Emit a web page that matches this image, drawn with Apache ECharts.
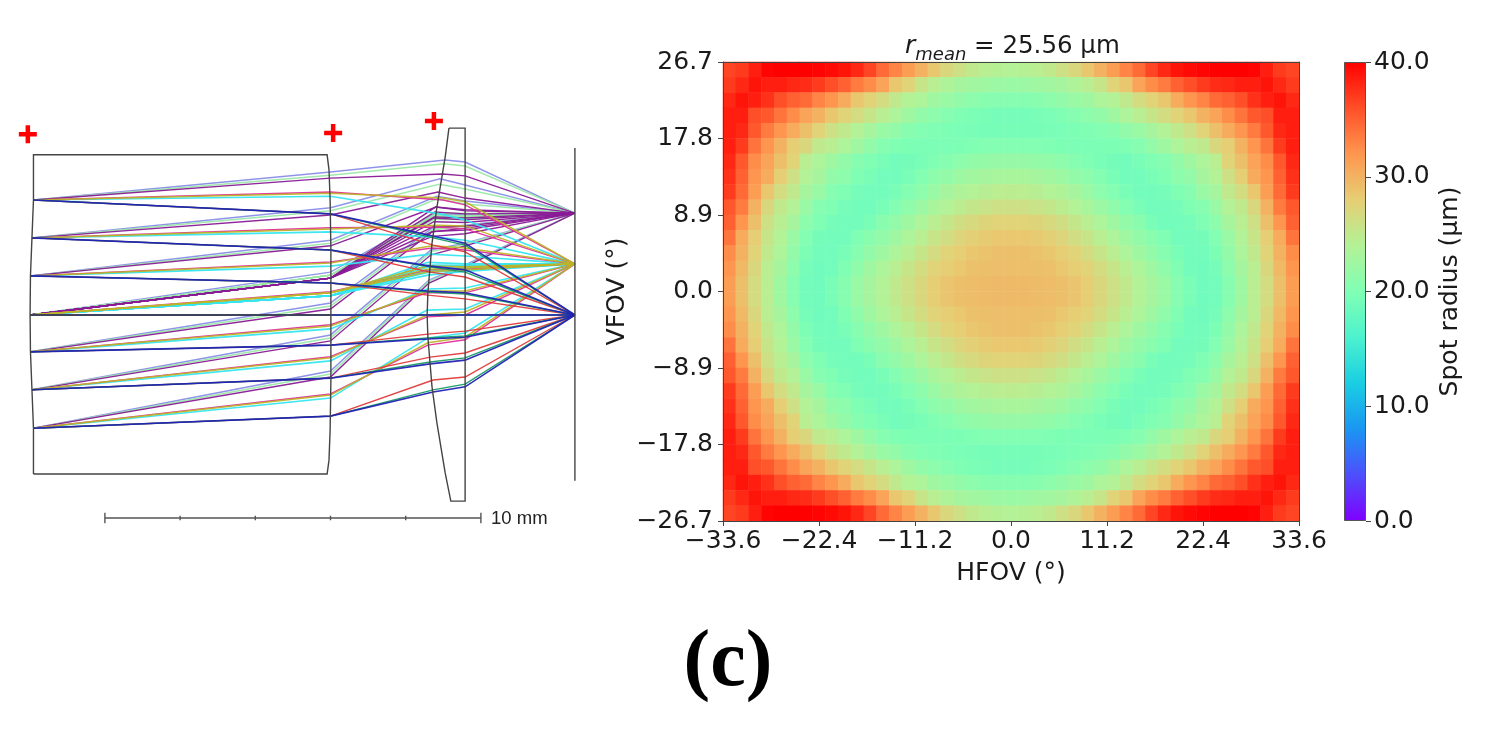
<!DOCTYPE html>
<html>
<head>
<meta charset="utf-8">
<style>html,body{margin:0;padding:0;background:#fff}#c{width:1491px;height:733px}</style>
<script src="https://cdn.jsdelivr.net/npm/echarts@6/dist/echarts.min.js"></script>
</head>
<body>
<div id="c"></div>
<script>
// ---------- spot radius map (µm), 30 rows top to bottom, 45 columns left to right ----------
const spotRows = [
[36.5,37,38.5,39.8,40,40,40,39.8,39.5,39,38,36.5,34.5,33,31.5,30,28.5,27,26,25,24.5,24.2,24,24.2,24.5,25,26,27,28.5,30,31.5,33,34.5,36.5,38,39,39.5,39.8,40,40,40,39.8,38.5,37,36.5],
[37,38,39,38.5,38.5,38,37.7,37,36,35,33.5,32.5,31,28.5,27.5,25.5,24.5,23.7,23,22.7,22.4,22.2,22,22.2,22.4,22.7,23,23.7,24.5,25.5,27.5,28.5,31,32.5,33.5,35,36,37,37.7,38,38.5,38.5,39,38,37],
[38,39,38.5,37.5,36,35,34.5,33,32,30.5,28.5,27.5,26.5,25,24,23.5,22.5,22,21.5,21,20.7,20.5,20.5,20.5,20.7,21,21.5,22,22.5,23.5,24,25,26.5,27.5,28.5,30.5,32,33,34.5,35,36,37.5,38.5,39,38],
[38.5,38.5,36,35.5,34,32.5,31,30,28.5,27.5,26.5,25.5,24.5,23.5,22.5,21.5,21,20.5,20,19.7,19.5,19.3,19.3,19.3,19.5,19.7,20,20.5,21,21.5,22.5,23.5,24.5,25.5,26.5,27.5,28.5,30,31,32.5,34,35.5,36,38.5,38.5],
[38.5,38,35.5,33.5,32,30.5,29,27.5,26,25,24,23,22,21.5,20.7,20.2,20,19.8,19.6,19.5,19.4,19.4,19.4,19.4,19.4,19.5,19.6,19.8,20,20.2,20.7,21.5,22,23,24,25,26,27.5,29,30.5,32,33.5,35.5,38,38.5],
[38.5,37,34,32,30,28,27,25,24.5,23.5,22.5,21.5,20.5,20,19.8,19.7,19.7,19.7,19.8,20,20.2,20.3,20.3,20.3,20.2,20,19.8,19.7,19.7,19.7,19.8,20,20.5,21.5,22.5,23.5,24.5,25,27,28,30,32,34,37,38.5],
[38,35.5,32.5,31,29,27.5,24.5,23.5,22.5,21.5,20.5,20,19.5,19,19.2,19.5,20,20.5,21,21.3,21.6,21.8,21.8,21.8,21.6,21.3,21,20.5,20,19.5,19.2,19,19.5,20,20.5,21.5,22.5,23.5,24.5,27.5,29,31,32.5,35.5,38],
[37.5,35,32,30.5,28,26,24,23,21.5,21,20,19.5,19,19,19.5,20.2,21,21.5,22.3,22.7,23,23.2,23.2,23.2,23,22.7,22.3,21.5,21,20.2,19.5,19,19,19.5,20,21,21.5,23,24,26,28,30.5,32,35,37.5],
[37,34.5,31.5,28.5,26.5,25,23,22,20.5,20,19.3,19,19,19.5,20.3,21,22,23,23.7,24,24.4,24.6,24.7,24.6,24.4,24,23.7,23,22,21,20.3,19.5,19,19,19.3,20,20.5,22,23,25,26.5,28.5,31.5,34.5,37],
[35.5,33.5,30,27,25,24,22,20.5,20,19.3,19,19,19.5,20.3,21.2,22.2,23.2,24,24.7,25.3,25.7,26,26,26,25.7,25.3,24.7,24,23.2,22.2,21.2,20.3,19.5,19,19,19.3,20,20.5,22,24,25,27,30,33.5,35.5],
[35,32,29,26,24.5,23,21,20,19.3,19,19,19.5,20.8,21.5,22.5,23.5,24.5,25.3,26.2,26.8,27.3,27.5,27.5,27.5,27.3,26.8,26.2,25.3,24.5,23.5,22.5,21.5,20.8,19.5,19,19,19.3,20,21,23,24.5,26,29,32,35],
[34,30.5,28,25.5,24,22,20.3,19.2,19,19,20,20.8,21.5,22.5,23.5,24.5,25.5,26.3,27.2,27.8,28.2,28.4,28.4,28.4,28.2,27.8,27.2,26.3,25.5,24.5,23.5,22.5,21.5,20.8,20,19,19,19.2,20.3,22,24,25.5,28,30.5,34],
[32.5,30,27.5,25,23.5,21.5,19.8,19,19,19.5,20.5,21.5,22.5,23.5,24.5,25.5,26.5,27.5,28,28.5,28.8,29,29,29,28.8,28.5,28,27.5,26.5,25.5,24.5,23.5,22.5,21.5,20.5,19.5,19,19,19.8,21.5,23.5,25,27.5,30,32.5],
[32,29.5,27,24.5,23,21,19.3,18.8,19,20,21.2,22.5,23.5,24.5,25.5,26.5,27.5,28,28.4,28.9,29,29.1,29.1,29.1,29,28.9,28.4,28,27.5,26.5,25.5,24.5,23.5,22.5,21.2,20,19,18.8,19.3,21,23,24.5,27,29.5,32],
[31.5,29,26.5,24.5,22.5,20.5,19,18.8,19.5,20.5,22,23,24,25,26,27,28,28.7,29,29.2,29.3,29.4,29.4,29.4,29.3,29.2,29,28.7,28,27,26,25,24,23,22,20.5,19.5,18.8,19,20.5,22.5,24.5,26.5,29,31.5],
[31.5,29,26.5,24.5,22.5,20.5,19,18.8,19.5,20.5,22,23,24,25,26,27,28,28.7,29,29.2,29.3,29.4,29.4,29.4,29.3,29.2,29,28.7,28,27,26,25,24,23,22,20.5,19.5,18.8,19,20.5,22.5,24.5,26.5,29,31.5],
[32,29.5,27,24.5,23,21,19.3,18.8,19,20,21.2,22.5,23.5,24.5,25.5,26.5,27.5,28,28.4,28.9,29,29.1,29.1,29.1,29,28.9,28.4,28,27.5,26.5,25.5,24.5,23.5,22.5,21.2,20,19,18.8,19.3,21,23,24.5,27,29.5,32],
[32.5,30,27.5,25,23.5,21.5,19.8,19,19,19.5,20.5,21.5,22.5,23.5,24.5,25.5,26.5,27.5,28,28.5,28.8,29,29,29,28.8,28.5,28,27.5,26.5,25.5,24.5,23.5,22.5,21.5,20.5,19.5,19,19,19.8,21.5,23.5,25,27.5,30,32.5],
[34,30.5,28,25.5,24,22,20.3,19.2,19,19,20,20.8,21.5,22.5,23.5,24.5,25.5,26.3,27.2,27.8,28.2,28.4,28.4,28.4,28.2,27.8,27.2,26.3,25.5,24.5,23.5,22.5,21.5,20.8,20,19,19,19.2,20.3,22,24,25.5,28,30.5,34],
[35,32,29,26,24.5,23,21,20,19.3,19,19,19.5,20.8,21.5,22.5,23.5,24.5,25.3,26.2,26.8,27.3,27.5,27.5,27.5,27.3,26.8,26.2,25.3,24.5,23.5,22.5,21.5,20.8,19.5,19,19,19.3,20,21,23,24.5,26,29,32,35],
[35.5,33.5,30,27,25,24,22,20.5,20,19.3,19,19,19.5,20.3,21.2,22.2,23.2,24,24.7,25.3,25.7,26,26,26,25.7,25.3,24.7,24,23.2,22.2,21.2,20.3,19.5,19,19,19.3,20,20.5,22,24,25,27,30,33.5,35.5],
[37,34.5,31.5,28.5,26.5,25,23,22,20.5,20,19.3,19,19,19.5,20.3,21,22,23,23.7,24,24.4,24.6,24.7,24.6,24.4,24,23.7,23,22,21,20.3,19.5,19,19,19.3,20,20.5,22,23,25,26.5,28.5,31.5,34.5,37],
[37.5,35,32,30.5,28,26,24,23,21.5,21,20,19.5,19,19,19.5,20.2,21,21.5,22.3,22.7,23,23.2,23.2,23.2,23,22.7,22.3,21.5,21,20.2,19.5,19,19,19.5,20,21,21.5,23,24,26,28,30.5,32,35,37.5],
[38,35.5,32.5,31,29,27.5,24.5,23.5,22.5,21.5,20.5,20,19.5,19,19.2,19.5,20,20.5,21,21.3,21.6,21.8,21.8,21.8,21.6,21.3,21,20.5,20,19.5,19.2,19,19.5,20,20.5,21.5,22.5,23.5,24.5,27.5,29,31,32.5,35.5,38],
[38.5,37,34,32,30,28,27,25,24.5,23.5,22.5,21.5,20.5,20,19.8,19.7,19.7,19.7,19.8,20,20.2,20.3,20.3,20.3,20.2,20,19.8,19.7,19.7,19.7,19.8,20,20.5,21.5,22.5,23.5,24.5,25,27,28,30,32,34,37,38.5],
[38.5,38,35.5,33.5,32,30.5,29,27.5,26,25,24,23,22,21.5,20.7,20.2,20,19.8,19.6,19.5,19.4,19.4,19.4,19.4,19.4,19.5,19.6,19.8,20,20.2,20.7,21.5,22,23,24,25,26,27.5,29,30.5,32,33.5,35.5,38,38.5],
[38.5,38.5,36,35.5,34,32.5,31,30,28.5,27.5,26.5,25.5,24.5,23.5,22.5,21.5,21,20.5,20,19.7,19.5,19.3,19.3,19.3,19.5,19.7,20,20.5,21,21.5,22.5,23.5,24.5,25.5,26.5,27.5,28.5,30,31,32.5,34,35.5,36,38.5,38.5],
[38,39,38.5,37.5,36,35,34.5,33,32,30.5,28.5,27.5,26.5,25,24,23.5,22.5,22,21.5,21,20.7,20.5,20.5,20.5,20.7,21,21.5,22,22.5,23.5,24,25,26.5,27.5,28.5,30.5,32,33,34.5,35,36,37.5,38.5,39,38],
[37,38,39,38.5,38.5,38,37.7,37,36,35,33.5,32.5,31,28.5,27.5,25.5,24.5,23.7,23,22.7,22.4,22.2,22,22.2,22.4,22.7,23,23.7,24.5,25.5,27.5,28.5,31,32.5,33.5,35,36,37,37.7,38,38.5,38.5,39,38,37],
[36.5,37,38.5,39.8,40,40,40,39.8,39.5,39,38,36.5,34.5,33,31.5,30,28.5,27,26,25,24.5,24.2,24,24.2,24.5,25,26,27,28.5,30,31.5,33,34.5,36.5,38,39,39.5,39.8,40,40,40,39.8,38.5,37,36.5]
];
const hfovTickStep = 11.2, hfovLimit = 33.6;
const vfovTickStep = 8.9, vfovLimit = 26.7;
const radiusTicks = {min: 0, max: 40, step: 10};
const rainbowStops = ['#8000ff','#4d4ffc','#1a96f2','#1acee3','#4df2ce','#80ffb4','#b3f296','#e6ce74','#ff964f','#ff4f28','#ff0000'];
const meanRadiusText = ' = 25.56 µm';
const hfovName = 'HFOV (°)', vfovName = 'VFOV (°)', radiusName = 'Spot radius (µm)';
const panelLabel = '(c)', scaleLabel = '10 mm';

// ---------- lens layout, all in millimetres: x along the axis, y height above it ----------
const surfaceX = {second: 8.79, fourth: 12.37, image: 15.29};
const pupilX = [0.89, 0.85, 0.81, 0.80, 0.81, 0.85, 0.89];
const pupilY = [3.06, 2.05, 1.04, 0, -0.98, -1.99, -3.01];
const fieldImageY = {axial: 0, mid: 1.36, edge: 2.71};

// every ray row: [height at surface 2, x at surface 3, height at surface 3, height at surface 4]
const axialBlue = [[2.69,11.52,2.10,1.91],[1.73,11.44,1.30,1.20],[.85,11.38,.64,.59],[0,11.36,0,0],[-.80,11.38,-.64,-.59],[-1.68,11.44,-1.30,-1.20],[-2.69,11.52,-2.05,-1.91]];
const axialGreen = [[2.69,11.52,2.05,1.86],[1.73,11.44,1.28,1.14],[.85,11.38,.61,.56],[0,11.36,0,0],[-.80,11.38,-.61,-.56],[-1.68,11.44,-1.25,-1.14],[-2.69,11.52,-1.99,-1.84]];
const axialRed = [[2.69,11.52,1.86,1.68],[1.73,11.44,1.14,1.01],[.85,11.38,.53,.43],[0,11.36,0,0],[-.80,11.38,-.51,-.43],[-1.68,11.44,-1.12,-1.01],[-2.69,11.52,-1.73,-1.65]];
const midYellow = [[3.24,11.78,3.11,3.01],[2.29,11.65,2.39,2.37],[1.38,11.49,1.84,1.78],[.59,11.38,1.22,1.25],[-.29,11.36,.64,.64],[-1.14,11.36,0,.08],[-2.13,11.38,-.74,-.59]];
const midCyan = [[3.16,11.70,2.69,2.53],[2.21,11.57,2.07,1.99],[1.30,11.44,1.62,1.57],[.51,11.38,1.17,1.20],[-.37,11.36,.69,.72],[-1.22,11.36,.13,.16],[-2.21,11.38,-.61,-.48]];
const midMagenta = [[3.27,11.78,3.06,2.93],[2.32,11.65,2.34,2.29],[1.41,11.49,1.78,1.73],[.62,11.38,1.20,1.22],[-.26,11.36,.59,.59],[-1.11,11.36,-.05,0],[-2.10,11.38,-.80,-.66]];
const edgePurple = [[3.64,11.78,3.75,3.70],[2.66,11.65,3.27,3.11],[1.84,11.60,2.87,2.77],[.98,11.54,2.58,2.53],[.16,11.49,2.21,2.31],[-.69,11.46,1.60,1.84],[-1.65,11.41,.85,1.28]];
const edgeLightBlue = [[3.80,11.84,4.12,4.07],[2.85,11.70,3.62,3.46],[1.99,11.62,3.16,3.03],[1.14,11.54,2.69,2.66],[.32,11.49,2.31,2.39],[-.53,11.46,1.73,1.91],[-1.49,11.41,.93,1.33]];
const edgeLightGreen = [[3.72,11.81,4.02,3.96],[2.77,11.68,3.48,3.35],[1.91,11.62,3.09,2.95],[1.06,11.54,2.63,2.61],[.24,11.49,2.26,2.37],[-.61,11.46,1.68,1.89],[-1.57,11.41,.90,1.30]];

// extra rays of the fans leaving the central pupil point (same row layout)
const centralPupil = 3;
const fanPurple = [[.98,11.58,2.87,2.80],[.98,11.56,2.74,2.69],[.98,11.55,2.61,2.58],[.98,11.54,2.48,2.46],[.98,11.52,2.35,2.36],[.98,11.51,2.22,2.26],[.98,11.50,2.09,2.16]];
const fanCyan = [[.51,11.38,1.40,1.36],[.51,11.38,1.33,1.32],[.51,11.38,1.27,1.28],[.51,11.38,1.20,1.24],[.51,11.38,1.13,1.20],[.51,11.38,1.06,1.16]];
const fanLightGreen = [[1.06,11.56,2.72,2.70],[1.06,11.55,2.66,2.64],[1.06,11.54,2.60,2.58],[1.06,11.53,2.54,2.54]];
const fanYellow = [[.59,11.38,1.30,1.28],[.59,11.38,1.15,1.20]];

const firstLensOutline = [[.89,-4.23],[.89,-3.01],[.85,-1.99],[.81,-.98],[.80,0],[.81,1.04],[.85,2.05],[.89,3.06],[.89,4.26],[8.70,4.26],[8.75,3.86],[8.78,3.06],[8.80,1.73],[8.80,0],[8.80,-1.73],[8.78,-3.06],[8.75,-3.86],[8.70,-4.23],[.89,-4.23]];
const secondLensOutline = [[11.94,4.97],[12.37,4.97],[12.37,-4.95],[11.99,-4.95],[11.84,-4.20],[11.62,-2.87],[11.49,-1.91],[11.38,-.59],[11.36,0],[11.38,.59],[11.49,1.91],[11.62,2.87],[11.84,4.20],[11.94,4.97]];
const imagePlane = [[15.29,4.44],[15.29,-4.41]];
const axisRay = [[.80,0],[8.79,0]];
const pivotMarks = [[.74,4.81],[8.86,4.84],[11.54,5.16]];
const scaleStart = 2.79, scaleHeight = -5.40;
const scaleTickMm = [0,2,4,6,8,10];

// ---------- build ----------
const heatData = [];
spotRows.forEach((row, r) => row.forEach((v, c) => heatData.push([c, r, v])));
const cols = spotRows[0].map((_, i) => i);
const rows = spotRows.map((_, i) => i);

function rayLines(table, imageY, fixedPupil) {
  return table.map((r, i) => {
    const p = fixedPupil === undefined ? i : fixedPupil;
    return {coords: [[pupilX[p], pupilY[p]], [surfaceX.second, r[0]], [r[1], r[2]], [surfaceX.fourth, r[3]], [surfaceX.image, imageY]]};
  });
}
function linesSeries(data, color, width, opacity, z) {
  return {type: 'lines', coordinateSystem: 'cartesian2d', xAxisIndex: 3, yAxisIndex: 3, polyline: true, silent: true,
    animation: false, z: z || 3, data: data, lineStyle: {color: color, width: width, opacity: opacity === undefined ? 1 : opacity, curveness: 0}};
}
const scaleSegs = [{coords: [[scaleStart, scaleHeight], [scaleStart + 10, scaleHeight]]}].concat(
  scaleTickMm.map((t, i) => {
    const h = (i === 0 || i === scaleTickMm.length - 1) ? 0.14 : 0.06;
    return {coords: [[scaleStart + t, scaleHeight + h], [scaleStart + t, scaleHeight - h]]};
  }));
const minus = v => v.toFixed(1).replace('-', '\u2212');
const ink = '#1a1a1a', fontFam = '"DejaVu Sans"';
const colorbarFill = {type: 'linear', x: 0, y: 0, x2: 0, y2: 1,
  colorStops: rainbowStops.slice().reverse().map((c, i, a) => ({offset: i / (a.length - 1), color: c}))};

const option = {
  animation: false,
  backgroundColor: '#fff',
  title: [
    {text: '{r|r}{m|mean}{t|' + meanRadiusText + '}', left: 905, top: 34, padding: 0,
      textStyle: {rich: {
        r: {fontFamily: fontFam, fontStyle: 'italic', fontWeight: 'normal', fontSize: 25, color: ink, verticalAlign: 'bottom', padding: [0,0,5,0]},
        m: {fontFamily: fontFam, fontStyle: 'italic', fontWeight: 'normal', fontSize: 18, color: ink, verticalAlign: 'bottom'},
        t: {fontFamily: fontFam, fontWeight: 'normal', fontSize: 24.5, color: ink, verticalAlign: 'bottom', padding: [0,0,5,0]}
      }}},
    {text: panelLabel, left: 728, top: 624, textAlign: 'center', padding: 0,
      textStyle: {fontFamily: '"Liberation Serif"', fontWeight: 'bold', fontSize: 80, color: '#000'}},
    {text: scaleLabel, left: 491, top: 509, padding: 0,
      textStyle: {fontFamily: '"Liberation Sans"', fontWeight: 'normal', fontSize: 18.5, color: '#222'}}
  ],
  grid: [
    {left: 723, top: 62, width: 576, height: 459},
    {left: 1344, top: 62, width: 22, height: 459},
    {left: 0, top: 89.4, width: 601.6, height: 451.2}
  ],
  xAxis: [
    {type: 'category', gridIndex: 0, data: cols, position: 'top', z: 5, axisTick: {show: false}, axisLabel: {show: false}, axisLine: {show: true, onZero: false, lineStyle: {color: '#444'}}, splitLine: {show: false}},
    {type: 'value', gridIndex: 0, min: -hfovLimit, max: hfovLimit, interval: hfovTickStep, position: 'bottom', z: 5,
      name: hfovName, nameLocation: 'middle', nameGap: 40, nameTextStyle: {fontFamily: fontFam, fontSize: 25, color: ink},
      axisLine: {show: true, onZero: false, lineStyle: {color: '#444'}}, axisTick: {show: true, length: 5, lineStyle: {color: '#444'}}, splitLine: {show: false},
      axisLabel: {formatter: minus, fontFamily: fontFam, fontSize: 25, color: ink, margin: 8, showMinLabel: true, showMaxLabel: true, hideOverlap: false}},
    {type: 'category', gridIndex: 1, show: false, data: ['radius']},
    {type: 'value', gridIndex: 2, show: false, min: 0, max: 16}
  ],
  yAxis: [
    {type: 'category', gridIndex: 0, data: rows, inverse: true, position: 'right', z: 5, axisTick: {show: false}, axisLabel: {show: false}, axisLine: {show: true, onZero: false, lineStyle: {color: '#444'}}, splitLine: {show: false}},
    {type: 'value', gridIndex: 0, min: -vfovLimit, max: vfovLimit, interval: vfovTickStep, position: 'left', z: 5,
      name: vfovName, nameLocation: 'middle', nameGap: 93, nameRotate: 90, nameTextStyle: {fontFamily: fontFam, fontSize: 25, color: ink},
      axisLine: {show: true, onZero: false, lineStyle: {color: '#444'}}, axisTick: {show: true, length: 5, lineStyle: {color: '#444'}}, splitLine: {show: false},
      axisLabel: {formatter: minus, fontFamily: fontFam, fontSize: 25, color: ink, margin: 10, padding: [4,0,0,0], showMinLabel: true, showMaxLabel: true, hideOverlap: false}},
    {type: 'value', gridIndex: 1, min: radiusTicks.min, max: radiusTicks.max, interval: radiusTicks.step, position: 'right', z: 5,
      name: radiusName, nameLocation: 'middle', nameGap: 72, nameRotate: 90, nameTextStyle: {fontFamily: fontFam, fontSize: 25, color: ink},
      axisLine: {show: false}, axisTick: {show: true, length: 5, lineStyle: {color: '#444'}}, splitLine: {show: false},
      axisLabel: {formatter: v => v.toFixed(1), fontFamily: fontFam, fontSize: 25, color: ink, margin: 8, padding: [4,0,0,0], showMinLabel: true, showMaxLabel: true, hideOverlap: false}},
    {type: 'value', gridIndex: 2, show: false, min: -6, max: 6}
  ],
  visualMap: {
    type: 'continuous', show: false, seriesIndex: 0, dimension: 2, min: radiusTicks.min, max: radiusTicks.max,
    inRange: {color: rainbowStops}
  },
  series: [
    {type: 'heatmap', xAxisIndex: 0, yAxisIndex: 0, data: heatData, silent: true, progressive: 0, animation: false, emphasis: {disabled: true}, itemStyle: {borderWidth: 0}},
    linesSeries(rayLines(edgeLightBlue, fieldImageY.edge), '#8a8ee8', 1.5, 0.95),
    linesSeries(rayLines(edgeLightGreen, fieldImageY.edge).concat(rayLines(fanLightGreen, fieldImageY.edge, centralPupil)), '#9be8a8', 1.5, 0.95),
    linesSeries(rayLines(edgePurple, fieldImageY.edge).concat(rayLines(fanPurple, fieldImageY.edge, centralPupil)), '#8a1a96', 1.4, 0.95),
    linesSeries(rayLines(midCyan, fieldImageY.mid).concat(rayLines(fanCyan, fieldImageY.mid, centralPupil)), '#35e6f0', 1.6, 0.95),
    linesSeries(rayLines(midMagenta, fieldImageY.mid), '#e0309a', 1.4, 0.95),
    linesSeries(rayLines(midYellow, fieldImageY.mid).concat(rayLines(fanYellow, fieldImageY.mid, centralPupil)), '#bdb428', 1.5, 0.95),
    linesSeries(rayLines(axialRed, fieldImageY.axial), '#e23a3a', 1.4, 0.95),
    linesSeries(rayLines(axialGreen, fieldImageY.axial), '#169a64', 1.4, 0.95),
    linesSeries(rayLines(axialBlue, fieldImageY.axial), '#2222b4', 1.6, 0.95),
    linesSeries([{coords: firstLensOutline}, {coords: secondLensOutline}, {coords: imagePlane}, {coords: axisRay}], '#444', 1.4, 1, 4),
    linesSeries(scaleSegs, '#555', 1.4, 1, 4),
    {type: 'scatter', xAxisIndex: 3, yAxisIndex: 3, data: pivotMarks, silent: true, animation: false, z: 5,
      symbol: 'path://M7.5,0h5v7.5h7.5v5h-7.5v7.5h-5v-7.5h-7.5v-5h7.5z', symbolSize: 18, itemStyle: {color: '#ff0000', opacity: 1}},
    {type: 'bar', xAxisIndex: 2, yAxisIndex: 2, data: [radiusTicks.max], barWidth: 22, silent: true, animation: false,
      itemStyle: {color: colorbarFill, borderColor: '#555', borderWidth: 1}}
  ]
};
echarts.init(document.getElementById('c'), null, {renderer: 'canvas'}).setOption(option);
</script>
</body>
</html>
